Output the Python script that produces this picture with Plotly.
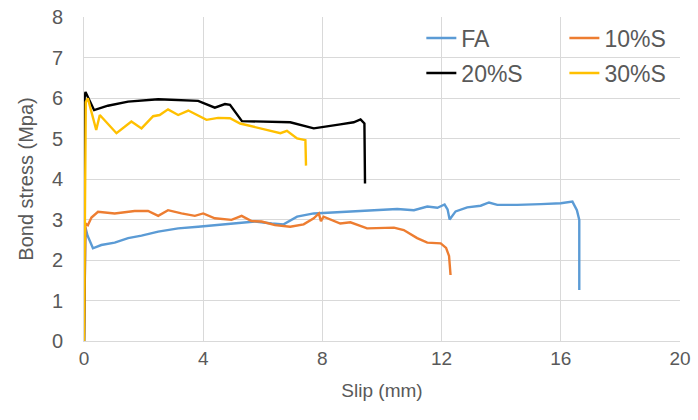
import plotly.graph_objects as go

# ---- data ----
fa_x = [0, 0.05, 0.12, 0.3, 0.58, 1.03, 1.48, 1.93, 2.49, 3.16, 3.83, 4.5, 5.18, 5.74, 6.3, 6.7,
        7.15, 7.71, 8.49, 9.61, 10.51, 11.07, 11.52, 11.86, 12.1, 12.2, 12.27, 12.47, 12.86, 13.31,
        13.59, 13.87, 14.54, 15.33, 16.0, 16.39, 16.54, 16.62, 16.62]
fa_y = [0, 2.8, 2.6, 2.29, 2.37, 2.43, 2.54, 2.6, 2.7, 2.78, 2.82, 2.86, 2.9, 2.95, 2.9, 2.88,
        3.07, 3.15, 3.18, 3.23, 3.26, 3.23, 3.32, 3.29, 3.37, 3.25, 3.0, 3.2, 3.3, 3.34,
        3.42, 3.36, 3.36, 3.38, 3.4, 3.44, 3.23, 2.99, 1.26]

s10_x = [0, 0.05, 0.13, 0.25, 0.47, 1.03, 1.7, 2.15, 2.49, 2.82, 3.27, 3.72, 4.0, 4.39, 4.95, 5.29,
         5.62, 5.96, 6.41, 6.92, 7.37, 7.71, 7.88, 7.95, 8.04, 8.6, 8.94, 9.5, 10.4, 10.73, 11.18,
         11.52, 11.97, 12.15, 12.25, 12.3]
s10_y = [0, 2.9, 2.86, 3.05, 3.19, 3.15, 3.21, 3.21, 3.09, 3.23, 3.15, 3.09, 3.15, 3.03, 2.99, 3.09,
         2.96, 2.95, 2.86, 2.82, 2.88, 3.03, 3.15, 2.96, 3.07, 2.9, 2.93, 2.78, 2.8, 2.74, 2.54,
         2.43, 2.41, 2.3, 2.1, 1.63]

s20_x = [0, 0.02, 0.05, 0.15, 0.34, 0.8, 1.48, 2.49, 3.83, 4.39, 4.73, 4.9, 5.18, 5.3, 6.92,
         7.71, 8.6, 9.05, 9.28, 9.41, 9.43]
s20_y = [0, 6.0, 6.15, 6.0, 5.70, 5.81, 5.91, 5.97, 5.93, 5.76, 5.85, 5.83, 5.55, 5.43, 5.40,
         5.25, 5.35, 5.40, 5.47, 5.37, 3.89]

s30_x = [0, 0.06, 0.13, 0.41, 0.53, 1.09, 1.59, 1.93, 2.32, 2.54, 2.82, 3.16, 3.5, 4.11, 4.5,
         4.9, 5.24, 5.92, 6.59, 6.81, 7.15, 7.43, 7.45]
s30_y = [0, 5.9, 5.99, 5.21, 5.58, 5.13, 5.42, 5.25, 5.55, 5.58, 5.72, 5.58, 5.69, 5.46, 5.51,
         5.5, 5.37, 5.25, 5.13, 5.19, 5.0, 4.96, 4.33]

names = ["FA", "10%S", "20%S", "30%S"]
colors = ["#5B9BD5", "#ED7D31", "#000000", "#FFC000"]
xs = [fa_x, s10_x, s20_x, s30_x]
ys = [fa_y, s10_y, s20_y, s30_y]
legend_ids = ["legend", "legend2", "legend3", "legend4"]

x_ticks = [0, 4, 8, 12, 16, 20]
y_ticks = [0, 1, 2, 3, 4, 5, 6, 7, 8]

FONT = "Liberation Sans, Arial, sans-serif"
TXT = "#595959"
GRID = "#D9D9D9"

fig = go.Figure()
for nm, c, x, y, lg in zip(names, colors, xs, ys, legend_ids):
    fig.add_trace(go.Scatter(x=x, y=y, mode="lines", name=nm, showlegend=True,
                             line=dict(color=c, width=2.4), legend=lg))

leg_common = dict(font=dict(family=FONT, size=23, color=TXT), bgcolor="rgba(0,0,0,0)",
                  xanchor="left", yanchor="middle", itemwidth=30, borderwidth=0,
                  visible=True)
leg_pos = {"legend": (0.566, 0.935), "legend2": (0.806, 0.935),
           "legend3": (0.566, 0.827), "legend4": (0.806, 0.827)}

fig.update_layout(
    width=698, height=420,
    showlegend=True,
    margin=dict(l=84, r=18, t=17, b=79),
    paper_bgcolor="white", plot_bgcolor="white",
    font=dict(family=FONT, color=TXT, size=19),
    xaxis=dict(range=[0, 20], tickvals=x_ticks, showgrid=True, gridcolor=GRID, gridwidth=1,
               showline=True, linecolor=GRID, linewidth=1, zeroline=False,
               ticks="", tickfont=dict(size=19, color=TXT), automargin=False,
               title=dict(text="Slip (mm)", font=dict(size=19, color=TXT), standoff=15)),
    yaxis=dict(range=[0, 8], tickvals=y_ticks, showgrid=True, gridcolor=GRID, gridwidth=1,
               showline=True, linecolor=GRID, linewidth=1, zeroline=False,
               ticks="", tickfont=dict(size=20, color=TXT), ticklabelstandoff=16,
               automargin=False,
               title=dict(text="Bond stress (Mpa)", font=dict(size=20, color=TXT), standoff=12)),
)
for lg, (lx, ly) in leg_pos.items():
    fig.update_layout({lg: dict(leg_common, x=lx, y=ly)})

fig.write_html("out.html")
